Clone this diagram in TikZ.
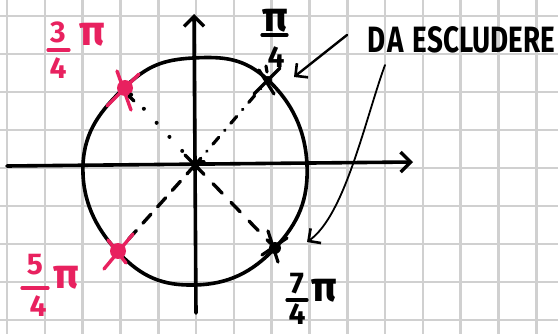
\documentclass[tikz,border=0pt]{standalone}
\usepackage{fontspec}
\setmainfont{Fira Sans}
\usetikzlibrary{arrows.meta}
\definecolor{pinkc}{HTML}{E8215F}
\definecolor{gridc}{HTML}{D0D0D0}
\begin{document}
\begin{tikzpicture}[x=1pt,y=-1pt,
  gridline/.style={gridc,line width=2.6pt},
  ink/.style={black,line width=3.6pt,line cap=round,line join=round},
  axis/.style={ink,-{Straight Barb[length=10pt,width=20pt,line width=3.4pt]}},
  pointer/.style={black,line width=2.4pt,line cap=round,-{Straight Barb[length=9pt,width=18pt,line width=2.6pt]}},
  lab/.style={inner sep=0pt,font=\bfseries\fontsize{30}{30}\selectfont},
  pilab/.style={inner sep=0pt,font=\bfseries\fontsize{42}{42}\selectfont},
  pinklab/.style={lab,text=pinkc},
  blacklab/.style={lab,text=black},
  fracbar/.style={line width=3.2pt,line cap=round},
  note/.style={inner sep=0pt,font=\bfseries\fontsize{30}{30}\selectfont},
  pinkdot/.style={circle,fill=pinkc,inner sep=0pt,minimum size=16pt},
  blackdot/.style={circle,fill=black,inner sep=0pt,minimum size=12pt},
  pinkstroke/.style={pinkc,line width=3.4pt,line cap=round},
  blackstroke/.style={black,line width=3.2pt,line cap=round}
]
\useasboundingbox (0,0) rectangle (558,334);
\fill[white] (0,0) rectangle (558,334);
% grid
\foreach \i in {0,...,14} \draw[gridline] ({7+37.8*\i},0) -- ({7+37.8*\i},334);
\foreach \j in {0,...,8} \draw[gridline] (0,{16+38*\j}) -- (558,{16+38*\j});

% axes
\coordinate (xs) at (7,166);
\coordinate (xe) at (413,162);
\coordinate (ys) at (196,313);
\coordinate (ye) at (194,14);
\draw[axis] (xs) -- (xe);
\draw[axis] (ys) -- (ye);

% circle
\draw[ink] plot[smooth cycle,tension=0.75] coordinates {(307,165) (275,248) (195,285) (118,252) (83,165) (124,88) (193,58) (268,80)};

% centre and points
\coordinate (O) at (195,165);
\node[blackdot,minimum size=8pt] (p1) at (268,80) {};
\node[pinkdot] (p3) at (125,88) {};
\node[pinkdot] (p5) at (118,251) {};
\node[blackdot] (p7) at (275,248) {};

% radial lines
\draw[ink,line width=3.2pt,dash pattern=on 9pt off 9pt on 0.5pt off 9pt] (O) -- (p1);
\draw[ink,line width=4pt,dash pattern=on 0pt off 19pt] (O) -- (p3);
\draw[ink,line width=3.4pt,dash pattern=on 12pt off 10pt] (O) -- (p5);
\draw[ink,line width=3.4pt,dash pattern=on 13pt off 13pt] (O) -- (p7);

% centre tick marks
\draw[blackstroke] ([shift={(-10,-10)}]O) -- ([shift={(3,3)}]O);
\draw[blackstroke] ([shift={(4,-3)}]O) -- ([shift={(9,-3)}]O);

% marks on points
\draw[pinkstroke] ([shift={(-18,18)}]p3.center) -- ([shift={(14,-14)}]p3.center);
\draw[pinkstroke] ([shift={(-8,-17)}]p3.center) -- ([shift={(6,22)}]p3.center);
\draw[blackstroke] ([shift={(4,8)}]p3.center) -- ([shift={(9,13)}]p3.center);

\draw[pinkstroke] ([shift={(-14,18)}]p5.center) -- ([shift={(15,-17)}]p5.center);
\draw[pinkstroke] ([shift={(-10,-11)}]p5.center) -- ([shift={(8,12)}]p5.center);

\draw[blackstroke] ([shift={(-14,14)}]p1.center) -- ([shift={(12,-12)}]p1.center);
\draw[blackstroke] ([shift={(-9,-10)}]p1.center) -- ([shift={(6,14)}]p1.center);
\draw[blackstroke] ([shift={(-2,-14)}]p1.center) -- ([shift={(-1,-8)}]p1.center);

\draw[blackstroke] ([shift={(-13,7)}]p7.center) -- ([shift={(12,-10)}]p7.center);
\draw[blackstroke] ([shift={(-7,-17)}]p7.center) -- ([shift={(3,14)}]p7.center);

% labels
\node[pinklab] (t3) at (58,32) {3};
\draw[pinkc,fracbar] (48,50) -- (69,50);
\node[pinklab] (b3) at (58,68) {4};
\node[pilab,text=pinkc] (pi3) at (92,35) {π};

\node[pilab] (pi1) at (275,21) {π};
\draw[fracbar] (262,35) -- (287,35);
\node[blacklab] (b1) at (276,57) {4};

\node[pinklab] (t5) at (35,265) {5};
\draw[pinkc,fracbar] (22,288) -- (48,288);
\node[pinklab] (b5) at (38,306) {4};
\node[pilab,text=pinkc] (pi5) at (66,278) {π};

\node[blacklab] (t7) at (297,284) {7};
\draw[fracbar] (287,300) -- (307,300);
\node[blacklab] (b7) at (297,314) {4};
\node[pilab] (pi7) at (324,291) {π};

\node[note,anchor=west] (note) at (367,40) {\resizebox{188pt}{26pt}{D\kern2pt A\kern10pt ESCLUDERE}};

% pointers
\coordinate (a1s) at (347,35);
\coordinate (a1e) at (294,77);
\draw[pointer] (a1s) -- (a1e);
\coordinate (a2s) at (385,65);
\coordinate (a2e) at (307,242);
\draw[pointer,line width=1.8pt] (a2s) .. controls (365,120) and (345,215) .. (a2e);
\end{tikzpicture}
\end{document}
